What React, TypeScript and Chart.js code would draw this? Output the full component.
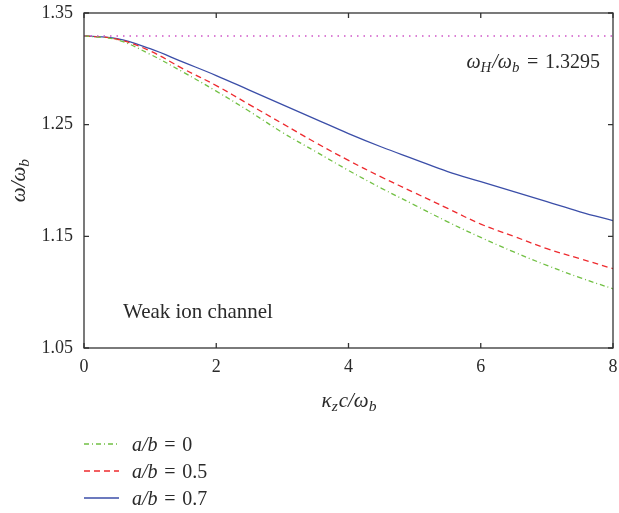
import React, { useEffect, useRef } from "react";
import { Chart, registerables } from "chart.js";

Chart.register(...registerables);

const kValues = [0, 0.5, 1, 1.5, 2, 2.5, 3, 3.5, 4, 4.5, 5, 5.5, 6, 6.5, 7, 7.5, 8];
const seriesA0 = [1.3295, 1.326, 1.313, 1.297, 1.28, 1.262, 1.243, 1.226, 1.209, 1.193, 1.178, 1.163, 1.149, 1.136, 1.124, 1.113, 1.103];
const seriesA05 = [1.3295, 1.3265, 1.316, 1.3, 1.285, 1.268, 1.251, 1.234, 1.218, 1.203, 1.189, 1.175, 1.161, 1.15, 1.139, 1.13, 1.121];
const seriesA07 = [1.3295, 1.327, 1.318, 1.306, 1.294, 1.281, 1.268, 1.255, 1.242, 1.23, 1.219, 1.208, 1.199, 1.19, 1.181, 1.172, 1.164];
const hybridFreq = 1.3295;
const xTicks = [0, 2, 4, 6, 8];
const yTicks = [1.05, 1.15, 1.25, 1.35];
const legendLabels = ["0", "0.5", "0.7"];

const FONT = "'Liberation Serif', 'DejaVu Serif', serif";
const COLORS = { green: "#72c044", red: "#ee2a2e", blue: "#3b4ea8", magenta: "#cf55c8", frame: "#333333", text: "#2a2a2a" };
const EQ = "\u2004=\u2004";

type Part = { t: string; i?: boolean; sub?: boolean };

function setFont(ctx: CanvasRenderingContext2D, p: Part, size: number) {
  const s = p.sub ? size * 0.74 : size;
  ctx.font = `${p.i ? "italic " : ""}${s}px ${FONT}`;
}

function drawRich(ctx: CanvasRenderingContext2D, parts: Part[], x: number, y: number, align: "left" | "center" | "right", size: number) {
  let w = 0;
  for (const p of parts) {
    setFont(ctx, p, size);
    w += ctx.measureText(p.t).width;
  }
  let cx = align === "left" ? x : align === "center" ? x - w / 2 : x - w;
  ctx.textAlign = "left";
  ctx.textBaseline = "middle";
  for (const p of parts) {
    setFont(ctx, p, size);
    ctx.fillText(p.t, cx, p.sub ? y + size * 0.28 : y);
    cx += ctx.measureText(p.t).width + (p.sub ? 1 : 0);
  }
}

const decorPlugin = {
  id: "decor",
  afterDraw(chart: any) {
    const ctx: CanvasRenderingContext2D = chart.ctx;
    const { left, right, top, bottom } = chart.chartArea;
    const xs = chart.scales.x;
    const ys = chart.scales.y;
    ctx.save();
    ctx.strokeStyle = COLORS.frame;
    ctx.lineWidth = 1.3;
    ctx.strokeRect(left, top, right - left, bottom - top);
    ctx.beginPath();
    for (const v of xTicks) {
      const px = xs.getPixelForValue(v);
      ctx.moveTo(px, bottom);
      ctx.lineTo(px, bottom - 5);
      ctx.moveTo(px, top);
      ctx.lineTo(px, top + 5);
    }
    for (const v of yTicks) {
      const py = ys.getPixelForValue(v);
      ctx.moveTo(left, py);
      ctx.lineTo(left + 5, py);
      ctx.moveTo(right, py);
      ctx.lineTo(right - 5, py);
    }
    ctx.stroke();

    ctx.fillStyle = COLORS.text;
    const size = 18;
    const tsize = 21;
    ctx.font = `${size}px ${FONT}`;
    ctx.textBaseline = "middle";
    ctx.textAlign = "right";
    for (const v of yTicks) {
      ctx.fillText(v.toFixed(2), left - 11, ys.getPixelForValue(v));
    }
    ctx.textAlign = "center";
    for (const v of xTicks) {
      ctx.fillText(String(v), xs.getPixelForValue(v), bottom + 19);
    }
    drawRich(ctx, [{ t: "κ", i: true }, { t: "z", i: true, sub: true }, { t: "c/ω", i: true }, { t: "b", i: true, sub: true }], (left + right) / 2, bottom + 53, "center", tsize);

    ctx.save();
    ctx.translate(19, (top + bottom) / 2);
    ctx.rotate(-Math.PI / 2);
    drawRich(ctx, [{ t: "ω/ω", i: true }, { t: "b", i: true, sub: true }], 0, 0, "center", tsize);
    ctx.restore();

    drawRich(ctx, [{ t: "ω", i: true }, { t: "H", i: true, sub: true }, { t: "/ω", i: true }, { t: "b", i: true, sub: true }, { t: EQ + hybridFreq.toFixed(4) }], right - 15, top + 50, "right", 20);

    ctx.font = `${tsize}px ${FONT}`;
    ctx.textAlign = "left";
    ctx.fillText("Weak ion channel", left + 39, bottom - 36);

    const legendColors = [COLORS.green, COLORS.red, COLORS.blue];
    const legendDash = [[5, 3, 1, 3], [6, 4], []];
    legendLabels.forEach((lab, idx) => {
      const y = bottom + 96 + idx * 27;
      ctx.save();
      ctx.strokeStyle = legendColors[idx];
      ctx.lineWidth = 1.3;
      ctx.setLineDash(legendDash[idx]);
      ctx.beginPath();
      ctx.moveTo(left, y);
      ctx.lineTo(left + 35, y);
      ctx.stroke();
      ctx.restore();
      ctx.fillStyle = COLORS.text;
      drawRich(ctx, [{ t: "a/b", i: true }, { t: EQ + lab }], left + 48, y + 1.5, "left", 20);
    });
    ctx.restore();
  },
};

function toPoints(vals: number[]) {
  return vals.map((v, i) => ({ x: kValues[i], y: v }));
}

export default function App() {
  const ref = useRef<HTMLCanvasElement>(null);
  useEffect(() => {
    if (!ref.current) return;
    const chart = new Chart(ref.current, {
      type: "line",
      data: {
        datasets: [
          { data: [{ x: 0, y: hybridFreq }, { x: 8, y: hybridFreq }], borderColor: COLORS.magenta, borderWidth: 1.5, borderDash: [1.5, 5], pointRadius: 0 },
          { data: toPoints(seriesA0), borderColor: COLORS.green, borderWidth: 1.3, borderDash: [5, 3, 1, 3], pointRadius: 0, tension: 0.4 },
          { data: toPoints(seriesA05), borderColor: COLORS.red, borderWidth: 1.3, borderDash: [6, 4], pointRadius: 0, tension: 0.4 },
          { data: toPoints(seriesA07), borderColor: COLORS.blue, borderWidth: 1.3, pointRadius: 0, tension: 0.4 },
        ],
      },
      options: {
        animation: false,
        responsive: false,
        devicePixelRatio: 1,
        layout: { padding: { left: 84, top: 13, right: 6, bottom: 165 } },
        plugins: { legend: { display: false }, tooltip: { enabled: false } },
        scales: {
          x: { type: "linear", min: 0, max: 8, display: false },
          y: { type: "linear", min: 1.05, max: 1.35, display: false },
        },
      },
      plugins: [decorPlugin],
    } as any);
    return () => chart.destroy();
  }, []);
  return (
    <div style={{ position: "fixed", left: 0, top: 0, width: 619, height: 513, background: "#fff" }}>
      <canvas ref={ref} width={619} height={513} style={{ width: 619, height: 513 }} />
    </div>
  );
}
